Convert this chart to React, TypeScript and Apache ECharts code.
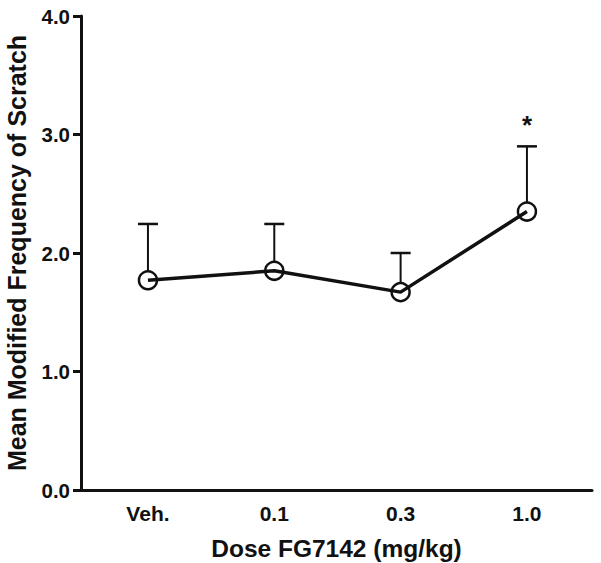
import React, { useEffect, useRef } from "react";
import * as echarts from "echarts";

const categories = ["Veh.", "0.1", "0.3", "1.0"];
const means = [1.77, 1.85, 1.67, 2.35];
const errorTops = [2.245, 2.245, 2.0, 2.9];
const significance = ["", "", "", "*"];
const yTicks = [0, 1, 2, 3, 4];

const FONT = "'Liberation Sans', Arial, Helvetica, sans-serif";
const INK = "#111";
const SYMBOL = 18;

export default function App() {
  const ref = useRef<HTMLDivElement>(null);
  useEffect(() => {
    if (!ref.current) return;
    const chart = echarts.init(ref.current, null, { renderer: "svg" });
    const errData = categories.map((_, i) => [i, means[i], errorTops[i], significance[i]]);
    chart.setOption({
      animation: false,
      backgroundColor: "#fff",
      grid: { left: 81, right: 9, top: 16, bottom: 73, containLabel: false, outerBoundsMode: "none" },
      xAxis: {
        type: "value",
        min: -0.53,
        max: 3.515,
        name: "Dose FG7142 (mg/kg)",
        nameLocation: "middle",
        nameGap: 46,
        nameMoveOverlap: false,
        nameTextStyle: { fontFamily: FONT, fontWeight: "bold", fontSize: 24.5, color: INK },
        axisLine: { show: true, onZero: false, lineStyle: { color: INK, width: 3 } },
        axisTick: { show: false },
        splitLine: { show: false },
        axisLabel: {
          customValues: [0, 1, 2, 3],
          formatter: (v: number) => categories[Math.round(v)] ?? "",
          fontFamily: FONT,
          fontWeight: "bold",
          fontSize: 21,
          color: INK,
          margin: 13,
        },
      },
      yAxis: {
        type: "value",
        min: yTicks[0],
        max: yTicks[yTicks.length - 1],
        interval: 1,
        name: "Mean Modified Frequency of Scratch",
        nameLocation: "middle",
        nameGap: 52,
        nameMoveOverlap: false,
        nameTextStyle: { fontFamily: FONT, fontWeight: "bold", fontSize: 25, color: INK },
        axisLine: { show: true, onZero: false, lineStyle: { color: INK, width: 3 } },
        axisTick: { show: true, length: 8, lineStyle: { color: INK, width: 3 } },
        splitLine: { show: false },
        axisLabel: {
          formatter: (v: number) => v.toFixed(1),
          fontFamily: FONT,
          fontWeight: "bold",
          fontSize: 20.5,
          color: INK,
          margin: 11,
        },
      },
      series: [
        {
          type: "custom",
          z: 1,
          data: errData,
          renderItem: (params: any, api: any) => {
            const x = api.value(0);
            const m = api.value(1);
            const t = api.value(2);
            const sig = errData[params.dataIndex][3] as string;
            const p0 = api.coord([x, m]);
            const p1 = api.coord([x, t]);
            const half = 10;
            const children: any[] = [
              { type: "line", shape: { x1: p0[0], y1: p0[1] - SYMBOL / 2, x2: p1[0], y2: p1[1] }, style: { stroke: INK, lineWidth: 2 } },
              { type: "line", shape: { x1: p1[0] - half, y1: p1[1], x2: p1[0] + half, y2: p1[1] }, style: { stroke: INK, lineWidth: 2.5 } },
            ];
            if (sig) {
              children.push({
                type: "text",
                x: p1[0],
                y: p1[1] - 8,
                style: {
                  text: sig,
                  fontFamily: FONT,
                  fontWeight: "bold",
                  fontSize: 26,
                  fill: INK,
                  align: "center",
                  verticalAlign: "bottom",
                },
              });
            }
            return { type: "group", children };
          },
        },
        {
          type: "line",
          z: 2,
          data: categories.map((_, i) => [i, means[i]]),
          symbol: "circle",
          symbolSize: SYMBOL,
          lineStyle: { color: INK, width: 3.5 },
          itemStyle: { color: "rgba(255,255,255,0)", borderColor: INK, borderWidth: 2.5 },
        },
      ],
    });
    return () => chart.dispose();
  }, []);
  return <div ref={ref} style={{ width: 601, height: 563, position: "absolute", left: 0, top: 0 }} />;
}
